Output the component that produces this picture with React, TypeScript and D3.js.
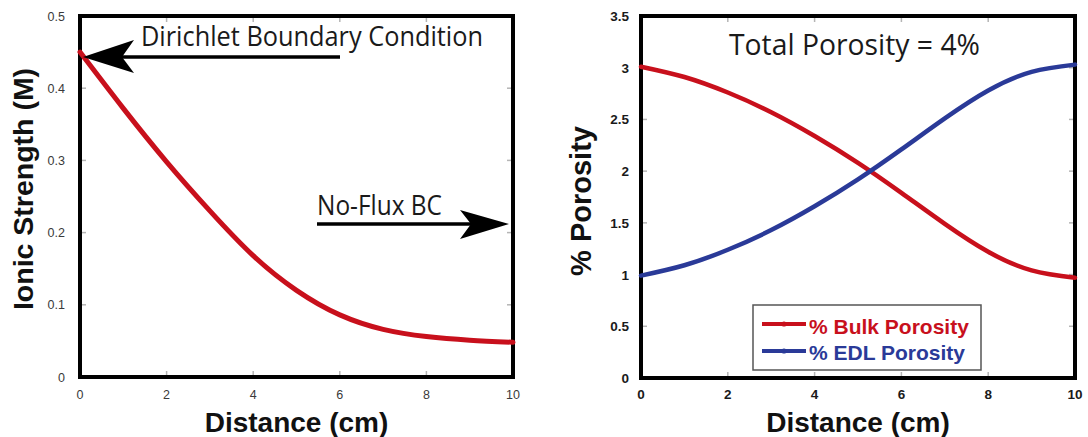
import React from "react";
import * as d3 from "d3";

// ---------- data ----------
const distance = [0, 1, 2, 3, 4, 5, 6, 7, 8, 9, 10];
const ionicStrength = [0.45, 0.372, 0.298, 0.23, 0.168, 0.12, 0.086, 0.066, 0.056, 0.051, 0.048];
const bulkPorosity = [3.01, 2.91, 2.76, 2.57, 2.34, 2.08, 1.79, 1.49, 1.22, 1.04, 0.97];
const edlPorosity = [0.99, 1.09, 1.24, 1.43, 1.66, 1.92, 2.21, 2.51, 2.78, 2.96, 3.03];

const xTicks = [0, 2, 4, 6, 8, 10];
const xTickLabels = ["0", "2", "4", "6", "8", "10"];
const leftYTicks = [0, 0.1, 0.2, 0.3, 0.4, 0.5];
const leftYTickLabels = ["0", "0.1", "0.2", "0.3", "0.4", "0.5"];
const rightYTicks = [0, 0.5, 1, 1.5, 2, 2.5, 3, 3.5];
const rightYTickLabels = ["0", "0.5", "1", "1.5", "2", "2.5", "3", "3.5"];

const legendLabels = ["% Bulk Porosity", "% EDL Porosity"];

const RED = "#c8101c";
const BLUE = "#2a3a98";
const SANS = "'Liberation Sans', Arial, sans-serif";
const HUMAN = "'Open Sans', 'Noto Sans', sans-serif";

type Pt = [number, number];

export default function App() {
  // left panel scales
  const xL = d3.scaleLinear().domain([0, 10]).range([80, 513]);
  const yL = d3.scaleLinear().domain([0, 0.5]).range([377, 16]);
  // right panel scales
  const xR = d3.scaleLinear().domain([0, 10]).range([641, 1075]);
  const yR = d3.scaleLinear().domain([0, 3.5]).range([378, 16]);

  const lineL = d3
    .line<Pt>()
    .x((d) => xL(d[0]))
    .y((d) => yL(d[1]))
    .curve(d3.curveNatural);
  const lineR = d3
    .line<Pt>()
    .x((d) => xR(d[0]))
    .y((d) => yR(d[1]))
    .curve(d3.curveNatural);

  const ionicPts: Pt[] = distance.map((d, i) => [d, ionicStrength[i]]);
  const bulkPts: Pt[] = distance.map((d, i) => [d, bulkPorosity[i]]);
  const edlPts: Pt[] = distance.map((d, i) => [d, edlPorosity[i]]);

  const tickLen = 6;
  const tickColor = "#b5b5b5";

  const frame = (
    x: d3.ScaleLinear<number, number>,
    y: d3.ScaleLinear<number, number>,
    yTicks: number[]
  ) => {
    const [x0, x1] = x.range();
    const [y0, y1] = y.range();
    return (
      <g>
        {xTicks.slice(1, -1).map((t) => (
          <g key={"xt" + t}>
            <line x1={x(t)} x2={x(t)} y1={y0} y2={y0 - tickLen} stroke={tickColor} strokeWidth={1.5} />
            <line x1={x(t)} x2={x(t)} y1={y1} y2={y1 + tickLen} stroke={tickColor} strokeWidth={1.5} />
          </g>
        ))}
        {yTicks.slice(1, -1).map((t) => (
          <g key={"yt" + t}>
            <line x1={x0} x2={x0 + tickLen} y1={y(t)} y2={y(t)} stroke={tickColor} strokeWidth={1.5} />
            <line x1={x1} x2={x1 - tickLen} y1={y(t)} y2={y(t)} stroke={tickColor} strokeWidth={1.5} />
          </g>
        ))}
        <rect x={x0} y={y1} width={x1 - x0} height={y0 - y1} fill="none" stroke="#000" strokeWidth={4} />
      </g>
    );
  };

  return (
    <svg
      width={1088}
      height={437}
      style={{ position: "absolute", left: 0, top: 0, display: "block", background: "#fff" }}
    >
      <rect x={0} y={0} width={1088} height={437} fill="#ffffff" />

      {/* ---------------- LEFT PANEL ---------------- */}
      {frame(xL, yL, leftYTicks)}
      {leftYTicks.map((t, i) => (
        <text
          key={"ly" + t}
          x={65}
          y={yL(t) + 4.5}
          textAnchor="end"
          fontFamily={SANS}
          fontSize={12.5}
          fill="#3a3a3a"
        >
          {leftYTickLabels[i]}
        </text>
      ))}
      {xTicks.map((t, i) => (
        <text
          key={"lx" + t}
          x={xL(t)}
          y={399}
          textAnchor="middle"
          fontFamily={SANS}
          fontSize={12.5}
          fill="#3a3a3a"
        >
          {xTickLabels[i]}
        </text>
      ))}
      <text x={(xL(0) + xL(10)) / 2} y={432} textAnchor="middle" fontFamily={SANS} fontWeight="bold" fontSize={28} fill="#111">
        Distance (cm)
      </text>
      <text
        transform="translate(33, 189) rotate(-90)"
        textAnchor="middle"
        fontFamily={SANS}
        fontWeight="bold"
        fontSize={28.5}
        fill="#111"
      >
        Ionic Strength (M)
      </text>

      <path d={lineL(ionicPts) || ""} fill="none" stroke={RED} strokeWidth={5} strokeLinejoin="round" strokeLinecap="round" />

      {/* Dirichlet annotation */}
      <text x={141} y={46} fontFamily={HUMAN} fontSize={28} textLength={342} lengthAdjust="spacingAndGlyphs" fill="#1a1a1a">
        Dirichlet Boundary Condition
      </text>
      <line x1={120} x2={340} y1={57} y2={57} stroke="#000" strokeWidth={3.5} />
      <path d="M83,57 L134,40 L122,57 L134,73 Z" fill="#000" />

      {/* No-Flux annotation */}
      <text x={317} y={215} fontFamily={HUMAN} fontSize={28} textLength={125} lengthAdjust="spacingAndGlyphs" fill="#1a1a1a">
        No-Flux BC
      </text>
      <line x1={317} x2={472} y1={224} y2={224} stroke="#000" strokeWidth={3.5} />
      <path d="M509,224 L460,210 L471,224 L460,239 Z" fill="#000" />

      {/* ---------------- RIGHT PANEL ---------------- */}
      {frame(xR, yR, rightYTicks)}
      {rightYTicks.map((t, i) => (
        <text
          key={"ry" + t}
          x={629}
          y={yR(t) + 5}
          textAnchor="end"
          fontFamily={SANS}
          fontWeight="bold"
          fontSize={13.5}
          fill="#1a1a1a"
        >
          {rightYTickLabels[i]}
        </text>
      ))}
      {xTicks.map((t, i) => (
        <text
          key={"rx" + t}
          x={xR(t)}
          y={399}
          textAnchor="middle"
          fontFamily={SANS}
          fontWeight="bold"
          fontSize={13.5}
          fill="#1a1a1a"
        >
          {xTickLabels[i]}
        </text>
      ))}
      <text x={(xR(0) + xR(10)) / 2} y={432} textAnchor="middle" fontFamily={SANS} fontWeight="bold" fontSize={28} fill="#111">
        Distance (cm)
      </text>
      <text
        transform="translate(591, 201) rotate(-90)"
        textAnchor="middle"
        fontFamily={SANS}
        fontWeight="bold"
        fontSize={29}
        fill="#111"
      >
        % Porosity
      </text>

      <text x={729} y={55} fontFamily={HUMAN} fontSize={30} textLength={251} lengthAdjust="spacingAndGlyphs" fill="#1a1a1a">
        Total Porosity = 4%
      </text>

      <path d={lineR(bulkPts) || ""} fill="none" stroke={RED} strokeWidth={4.5} strokeLinejoin="round" strokeLinecap="round" />
      <path d={lineR(edlPts) || ""} fill="none" stroke={BLUE} strokeWidth={4.5} strokeLinejoin="round" strokeLinecap="round" />

      {/* legend */}
      <g>
        <rect x={753} y={305} width={228} height={65} fill="#fff" stroke="#555" strokeWidth={1.5} />
        {[RED, BLUE].map((c, i) => (
          <g key={"lg" + i}>
            <line x1={762} x2={806} y1={324 + i * 27} y2={324 + i * 27} stroke={c} strokeWidth={4} />
            <circle cx={784} cy={324 + i * 27} r={2.6} fill={c} />
            <text x={809} y={334 + i * 26} fontFamily={SANS} fontWeight="bold" fontSize={21} fill={c}>
              {legendLabels[i]}
            </text>
          </g>
        ))}
      </g>
    </svg>
  );
}
